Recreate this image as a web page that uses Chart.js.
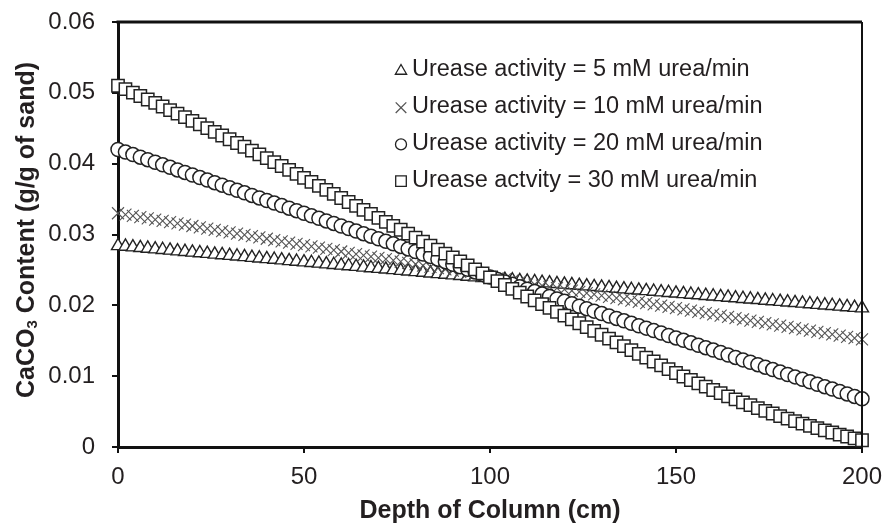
<!DOCTYPE html>
<html>
<head>
<meta charset="utf-8">
<script src="https://cdn.jsdelivr.net/npm/chart.js"></script>
<style>
  body { margin: 0; background: #fff; }
  canvas { display: block; }
</style>
</head>
<body>
<canvas id="chart" width="885" height="526"></canvas>
<script>
// depth along the column (cm), one marker every 2 cm
const depth = [
  0, 2, 4, 6, 8, 10, 12, 14, 16, 18, 20, 22, 24, 26, 28, 30, 32, 34, 36, 38,
  40, 42, 44, 46, 48, 50, 52, 54, 56, 58, 60, 62, 64, 66, 68, 70, 72, 74, 76, 78,
  80, 82, 84, 86, 88, 90, 92, 94, 96, 98, 100, 102, 104, 106, 108, 110, 112, 114, 116, 118,
  120, 122, 124, 126, 128, 130, 132, 134, 136, 138, 140, 142, 144, 146, 148, 150, 152, 154, 156, 158,
  160, 162, 164, 166, 168, 170, 172, 174, 176, 178, 180, 182, 184, 186, 188, 190, 192, 194, 196, 198, 200
];

// CaCO3 content (g/g of sand)
const urease5 = [
  0.02840, 0.02831, 0.02822, 0.02812, 0.02803, 0.02794, 0.02785, 0.02776, 0.02766, 0.02757,
  0.02748, 0.02739, 0.02730, 0.02720, 0.02711, 0.02702, 0.02693, 0.02684, 0.02674, 0.02665,
  0.02656, 0.02647, 0.02638, 0.02628, 0.02619, 0.02610, 0.02601, 0.02592, 0.02582, 0.02573,
  0.02564, 0.02555, 0.02546, 0.02536, 0.02527, 0.02518, 0.02509, 0.02500, 0.02490, 0.02481,
  0.02472, 0.02463, 0.02454, 0.02444, 0.02435, 0.02426, 0.02417, 0.02408, 0.02398, 0.02389,
  0.02380,
  0.02372, 0.02363, 0.02355, 0.02346, 0.02338, 0.02330, 0.02321, 0.02313, 0.02304, 0.02296,
  0.02288, 0.02279, 0.02271, 0.02262, 0.02254, 0.02246, 0.02237, 0.02229, 0.02220, 0.02212,
  0.02204, 0.02195, 0.02187, 0.02178, 0.02170, 0.02162, 0.02153, 0.02145, 0.02136, 0.02128,
  0.02120, 0.02111, 0.02103, 0.02094, 0.02086, 0.02078, 0.02069, 0.02061, 0.02052, 0.02044,
  0.02036, 0.02027, 0.02019, 0.02010, 0.02002, 0.01994, 0.01985, 0.01977, 0.01968, 0.01960
];
const urease10 = [
  0.03300, 0.03282, 0.03264, 0.03246, 0.03228, 0.03210, 0.03192, 0.03174, 0.03156, 0.03138,
  0.03120, 0.03102, 0.03084, 0.03066, 0.03048, 0.03030, 0.03012, 0.02994, 0.02976, 0.02958,
  0.02940, 0.02922, 0.02904, 0.02886, 0.02868, 0.02850, 0.02832, 0.02814, 0.02796, 0.02778,
  0.02760, 0.02742, 0.02724, 0.02706, 0.02688, 0.02670, 0.02652, 0.02634, 0.02616, 0.02598,
  0.02580, 0.02562, 0.02544, 0.02526, 0.02508, 0.02490, 0.02472, 0.02454, 0.02436, 0.02418,
  0.02400,
  0.02382, 0.02365, 0.02347, 0.02330, 0.02312, 0.02294, 0.02277, 0.02259, 0.02242, 0.02224,
  0.02206, 0.02189, 0.02171, 0.02154, 0.02136, 0.02118, 0.02101, 0.02083, 0.02066, 0.02048,
  0.02030, 0.02013, 0.01995, 0.01978, 0.01960, 0.01942, 0.01925, 0.01907, 0.01890, 0.01872,
  0.01854, 0.01837, 0.01819, 0.01802, 0.01784, 0.01766, 0.01749, 0.01731, 0.01714, 0.01696,
  0.01678, 0.01661, 0.01643, 0.01626, 0.01608, 0.01590, 0.01573, 0.01555, 0.01538, 0.01520
];
const urease20 = [
  0.04200, 0.04164, 0.04128, 0.04092, 0.04056, 0.04020, 0.03984, 0.03948, 0.03912, 0.03876,
  0.03840, 0.03804, 0.03768, 0.03732, 0.03696, 0.03660, 0.03624, 0.03588, 0.03552, 0.03516,
  0.03480, 0.03444, 0.03408, 0.03372, 0.03336, 0.03300, 0.03264, 0.03228, 0.03192, 0.03156,
  0.03120, 0.03084, 0.03048, 0.03012, 0.02976, 0.02940, 0.02904, 0.02868, 0.02832, 0.02796,
  0.02760, 0.02724, 0.02688, 0.02652, 0.02616, 0.02580, 0.02544, 0.02508, 0.02472, 0.02436,
  0.02400,
  0.02366, 0.02331, 0.02297, 0.02262, 0.02228, 0.02194, 0.02159, 0.02125, 0.02090, 0.02056,
  0.02022, 0.01987, 0.01953, 0.01918, 0.01884, 0.01850, 0.01815, 0.01781, 0.01746, 0.01712,
  0.01678, 0.01643, 0.01609, 0.01574, 0.01540, 0.01506, 0.01471, 0.01437, 0.01402, 0.01368,
  0.01334, 0.01299, 0.01265, 0.01230, 0.01196, 0.01162, 0.01127, 0.01093, 0.01058, 0.01024,
  0.00990, 0.00955, 0.00921, 0.00886, 0.00852, 0.00818, 0.00783, 0.00749, 0.00714, 0.00680
];
const urease30 = [
  0.05100, 0.05052, 0.05004, 0.04955, 0.04906, 0.04857, 0.04807, 0.04757, 0.04707, 0.04656,
  0.04605, 0.04554, 0.04502, 0.04450, 0.04398, 0.04345, 0.04292, 0.04239, 0.04185, 0.04131,
  0.04077, 0.04022, 0.03967, 0.03912, 0.03856, 0.03800, 0.03744, 0.03687, 0.03630, 0.03573,
  0.03515, 0.03459, 0.03403, 0.03347, 0.03291, 0.03235, 0.03179, 0.03123, 0.03067, 0.03011,
  0.02955, 0.02899, 0.02843, 0.02787, 0.02731, 0.02675, 0.02619, 0.02563, 0.02507, 0.02451,
  0.02395,
  0.02341, 0.02287, 0.02233, 0.02179, 0.02125, 0.02071, 0.02017, 0.01963, 0.01909, 0.01855,
  0.01801, 0.01747, 0.01693, 0.01639, 0.01585, 0.01531, 0.01477, 0.01423, 0.01369, 0.01315,
  0.01261, 0.01207, 0.01153, 0.01099, 0.01045, 0.00995, 0.00946, 0.00898, 0.00851, 0.00805,
  0.00760, 0.00716, 0.00673, 0.00631, 0.00590, 0.00550, 0.00511, 0.00473, 0.00436, 0.00400,
  0.00365, 0.00331, 0.00298, 0.00266, 0.00235, 0.00205, 0.00176, 0.00148, 0.00121, 0.00095
];

const seriesLabels = [
  "Urease activity = 5 mM urea/min",
  "Urease activity = 10 mM urea/min",
  "Urease activity = 20 mM urea/min",
  "Urease actvity = 30 mM urea/min"
];
const xTickLabels = ["0", "50", "100", "150", "200"];
const yTickLabels = ["0", "0.01", "0.02", "0.03", "0.04", "0.05", "0.06"];

const FONT = "'Liberation Sans', Arial, Helvetica, sans-serif";
const INK = "#231f20";

function points(ys) {
  return ys.map((y, i) => ({ x: depth[i], y: y }));
}

// markers: triangle, rotated cross, circle, square (legend sizes kept separately)
const markers = [
  { pointStyle: "triangle", radius: 7.5, borderWidth: 1.4, color: "#222", legendRadius: 6.5 },
  { pointStyle: "crossRot", radius: 8.5, borderWidth: 1.1, color: "#555", legendRadius: 7.5 },
  { pointStyle: "circle", radius: 7, borderWidth: 1.5, color: "#222", legendRadius: 5.5 },
  { pointStyle: "rect", radius: 8.7, borderWidth: 1.5, color: "#222", legendRadius: 7.5 }
];
const allSeries = [urease5, urease10, urease20, urease30];

const datasets = allSeries.map((ys, k) => ({
  label: seriesLabels[k],
  data: points(ys),
  showLine: false,
  pointStyle: markers[k].pointStyle,
  pointRadius: markers[k].radius,
  pointHoverRadius: markers[k].radius,
  pointBorderWidth: markers[k].borderWidth,
  pointBorderColor: markers[k].color,
  pointBackgroundColor: "#fff",
  order: 3 - k,
  clip: false
}));

// top and right frame lines, in-plot legend, y title with subscript
const extras = {
  id: "extras",
  afterDraw(chart) {
    const ctx = chart.ctx;
    const a = chart.chartArea;
    ctx.save();
    ctx.strokeStyle = "#111";
    ctx.lineWidth = 3;
    ctx.beginPath();
    ctx.moveTo(a.left - 1.5, a.top);
    ctx.lineTo(a.right, a.top);
    ctx.stroke();
    ctx.lineWidth = 2;
    ctx.beginPath();
    ctx.moveTo(a.right, a.top);
    ctx.lineTo(a.right, a.bottom);
    ctx.stroke();

    // legend
    const lx = a.left + 283;
    const ly = a.top + 48;
    const gap = 36.7;
    ctx.font = "23.5px " + FONT;
    ctx.textBaseline = "middle";
    ctx.textAlign = "left";
    seriesLabels.forEach((lab, k) => {
      const y = ly + k * gap;
      ctx.strokeStyle = markers[k].color;
      ctx.fillStyle = "#fff";
      ctx.lineWidth = 1.3;
      if (Chart.helpers && Chart.helpers.drawPoint) {
        Chart.helpers.drawPoint(ctx, {
          pointStyle: markers[k].pointStyle,
          radius: markers[k].legendRadius,
          rotation: 0,
          borderWidth: 1.3
        }, lx, y + 1);
      }
      ctx.fillStyle = INK;
      ctx.fillText(lab, lx + 11, y);
    });

    // y axis title
    ctx.translate(27, 230);
    ctx.rotate(-Math.PI / 2);
    const big = "bold 25px " + FONT;
    const small = "bold 15px " + FONT;
    const parts = [
      { t: "CaCO", f: big, dy: 0 },
      { t: "3", f: small, dy: 6 },
      { t: " Content (g/g of sand)", f: big, dy: 0 }
    ];
    let total = 0;
    parts.forEach(p => { ctx.font = p.f; total += ctx.measureText(p.t).width; });
    let x = -total / 2;
    ctx.fillStyle = INK;
    ctx.textBaseline = "middle";
    parts.forEach(p => {
      ctx.font = p.f;
      ctx.fillText(p.t, x, p.dy);
      x += ctx.measureText(p.t).width;
    });
    ctx.restore();
  }
};

const chart = new Chart(document.getElementById("chart"), {
  type: "scatter",
  data: { datasets: datasets },
  options: {
    responsive: false,
    animation: false,
    devicePixelRatio: 1,
    layout: { padding: { top: 22, right: 23, left: 0, bottom: 0 } },
    plugins: {
      legend: { display: false },
      tooltip: { enabled: false }
    },
    scales: {
      x: {
        type: "linear",
        min: 0,
        max: 200,
        afterBuildTicks: s => { s.ticks = xTickLabels.map(v => ({ value: Number(v) })); },
        afterFit: s => { s.height = 79; s.paddingLeft = 0; s.paddingRight = 0; },
        ticks: {
          autoSkip: false,
          maxRotation: 0,
          padding: 10,
          color: INK,
          font: { family: FONT, size: 24 },
          callback: (v, i) => xTickLabels[i]
        },
        grid: {
          drawOnChartArea: false,
          drawTicks: true,
          tickLength: 6,
          lineWidth: 2,
          color: "#111"
        },
        border: { display: true, width: 3, color: "#111" },
        title: {
          display: true,
          text: "Depth of Column (cm)",
          color: INK,
          font: { family: FONT, size: 25, weight: "bold" },
          padding: { top: 0, bottom: 0 }
        }
      },
      y: {
        type: "linear",
        min: 0,
        max: 0.06,
        afterBuildTicks: s => { s.ticks = yTickLabels.map(v => ({ value: Number(v) })); },
        afterFit: s => { s.width = 118; s.paddingTop = 0; s.paddingBottom = 0; },
        ticks: {
          autoSkip: false,
          padding: 17,
          color: INK,
          font: { family: FONT, size: 24 },
          callback: (v, i) => yTickLabels[i]
        },
        grid: {
          drawOnChartArea: false,
          drawTicks: true,
          tickLength: 6,
          lineWidth: 2,
          color: "#111"
        },
        border: { display: true, width: 3, color: "#111" }
      }
    }
  },
  plugins: [extras]
});
</script>
</body>
</html>
